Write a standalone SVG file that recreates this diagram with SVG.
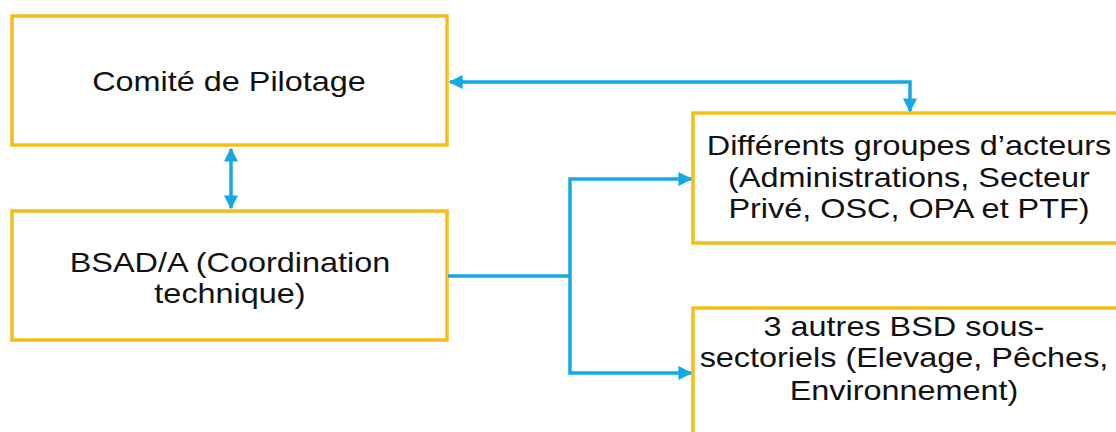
<svg xmlns="http://www.w3.org/2000/svg" width="1116" height="432" viewBox="0 0 1116 432">
<style>
.box{fill:#fff;stroke:#F5BE16;stroke-width:3.5}
.t{font-family:"Liberation Sans",Arial,sans-serif;font-size:27px;fill:#111;text-anchor:middle}
.c{fill:none;stroke:#14A8E4;stroke-width:3.5}
</style>
<defs>
<marker id="ah" viewBox="0 0 10 10" refX="9" refY="5" markerWidth="4" markerHeight="4" orient="auto-start-reverse" markerUnits="strokeWidth">
<path d="M0,0 L10,5 L0,10 z" fill="#14A8E4"/>
</marker>
</defs>
<rect width="1116" height="432" fill="#fff"/>
<g id="n1"><rect class="box" x="12" y="16" width="435" height="129"/>
<g transform="translate(229,0) scale(1.2,1)"><text class="t" x="0" y="91">Comité de Pilotage</text></g></g>
<g id="n2"><rect class="box" x="12" y="211" width="435" height="129"/>
<g transform="translate(230,0) scale(1.2,1)"><text class="t" x="0" y="272">BSAD/A (Coordination</text><text class="t" x="0" y="303">technique)</text></g></g>
<g id="n3"><rect class="box" x="693" y="113" width="440" height="130"/>
<g transform="translate(909,0) scale(1.2,1)"><text class="t" x="0" y="155">Différents groupes d’acteurs</text><text class="t" x="0" y="187">(Administrations, Secteur</text><text class="t" x="0" y="218">Privé, OSC, OPA et PTF)</text></g></g>
<g id="n4"><rect class="box" x="693" y="308" width="440" height="140"/>
<g transform="translate(904,0) scale(1.2,1)"><text class="t" x="0" y="336">3 autres BSD sous-</text><text class="t" x="0" y="367">sectoriels (Elevage, Pêches,</text><text class="t" x="0" y="400">Environnement)</text></g></g>
<g id="connectors">
<path class="c" d="M231,149 L231,208" marker-start="url(#ah)" marker-end="url(#ah)"/>
<path class="c" d="M450,82 L910,82 L910,111" marker-start="url(#ah)" marker-end="url(#ah)"/>
<path class="c" d="M448,276 L570,276"/>
<path class="c" d="M570,276 L570,179 L691,179" marker-end="url(#ah)"/>
<path class="c" d="M570,276 L570,373 L691,373" marker-end="url(#ah)"/>
</g>
</svg>
